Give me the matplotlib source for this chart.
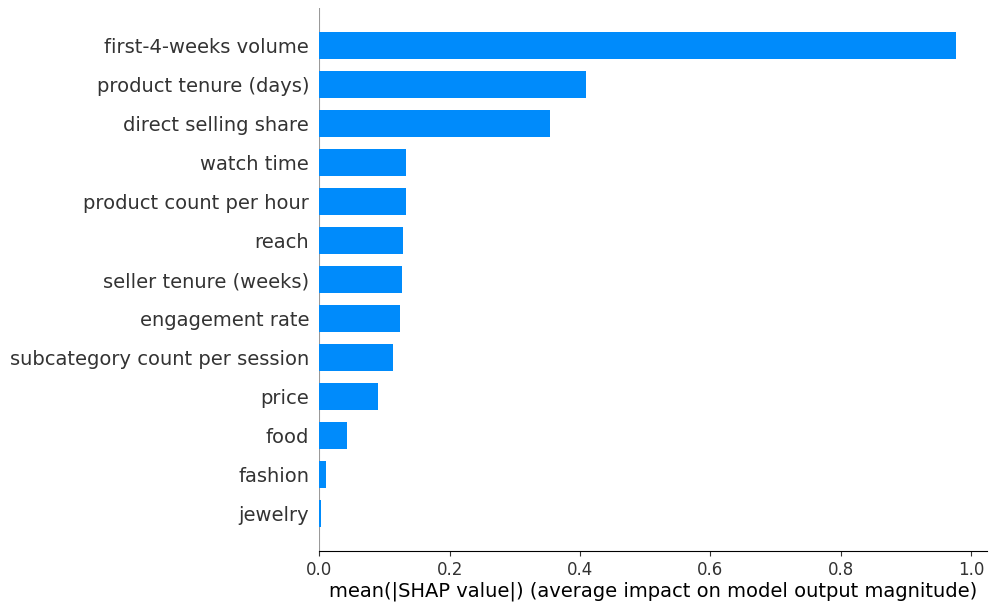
import matplotlib
matplotlib.use("Agg")
import matplotlib.pyplot as plt
import numpy as np

# mean |SHAP| per feature, smallest first (bottom of the chart)
features = ["jewelry", "fashion", "food", "price",
            "subcategory count per session", "engagement rate",
            "seller tenure (weeks)", "reach", "product count per hour",
            "watch time", "direct selling share", "product tenure (days)",
            "first-4-weeks volume"]
importance = [0.002, 0.010, 0.042, 0.090, 0.113, 0.124, 0.127, 0.128,
              0.133, 0.133, 0.354, 0.409, 0.977]

bar_color = "#008bfb"
axis_color = "#333333"

fig = plt.figure(figsize=(9.92, 6.08), dpi=100)
ax = fig.add_axes([0.322, 0.094, 0.673, 0.893])

y_pos = np.arange(len(features))
ax.barh(y_pos, importance, 0.7, align="center", color=bar_color)
ax.axvline(x=0, color="#999999", zorder=-1)

ax.set_yticks(y_pos)
ax.set_yticklabels(features, fontsize=14, color=axis_color)
ax.yaxis.set_ticks_position("none")
ax.tick_params("y", pad=4)
ax.set_ylim(-0.95, 12.97)
ax.set_xlim(0, 1.0246)

ax.xaxis.set_ticks_position("bottom")
ax.tick_params("x", labelsize=12, color=axis_color, labelcolor=axis_color)
for side in ("right", "top", "left"):
    ax.spines[side].set_visible(False)

ax.set_xlabel("mean(|SHAP value|) (average impact on model output magnitude)",
              fontsize=14, labelpad=2)

fig.savefig("out.png", dpi=100)
